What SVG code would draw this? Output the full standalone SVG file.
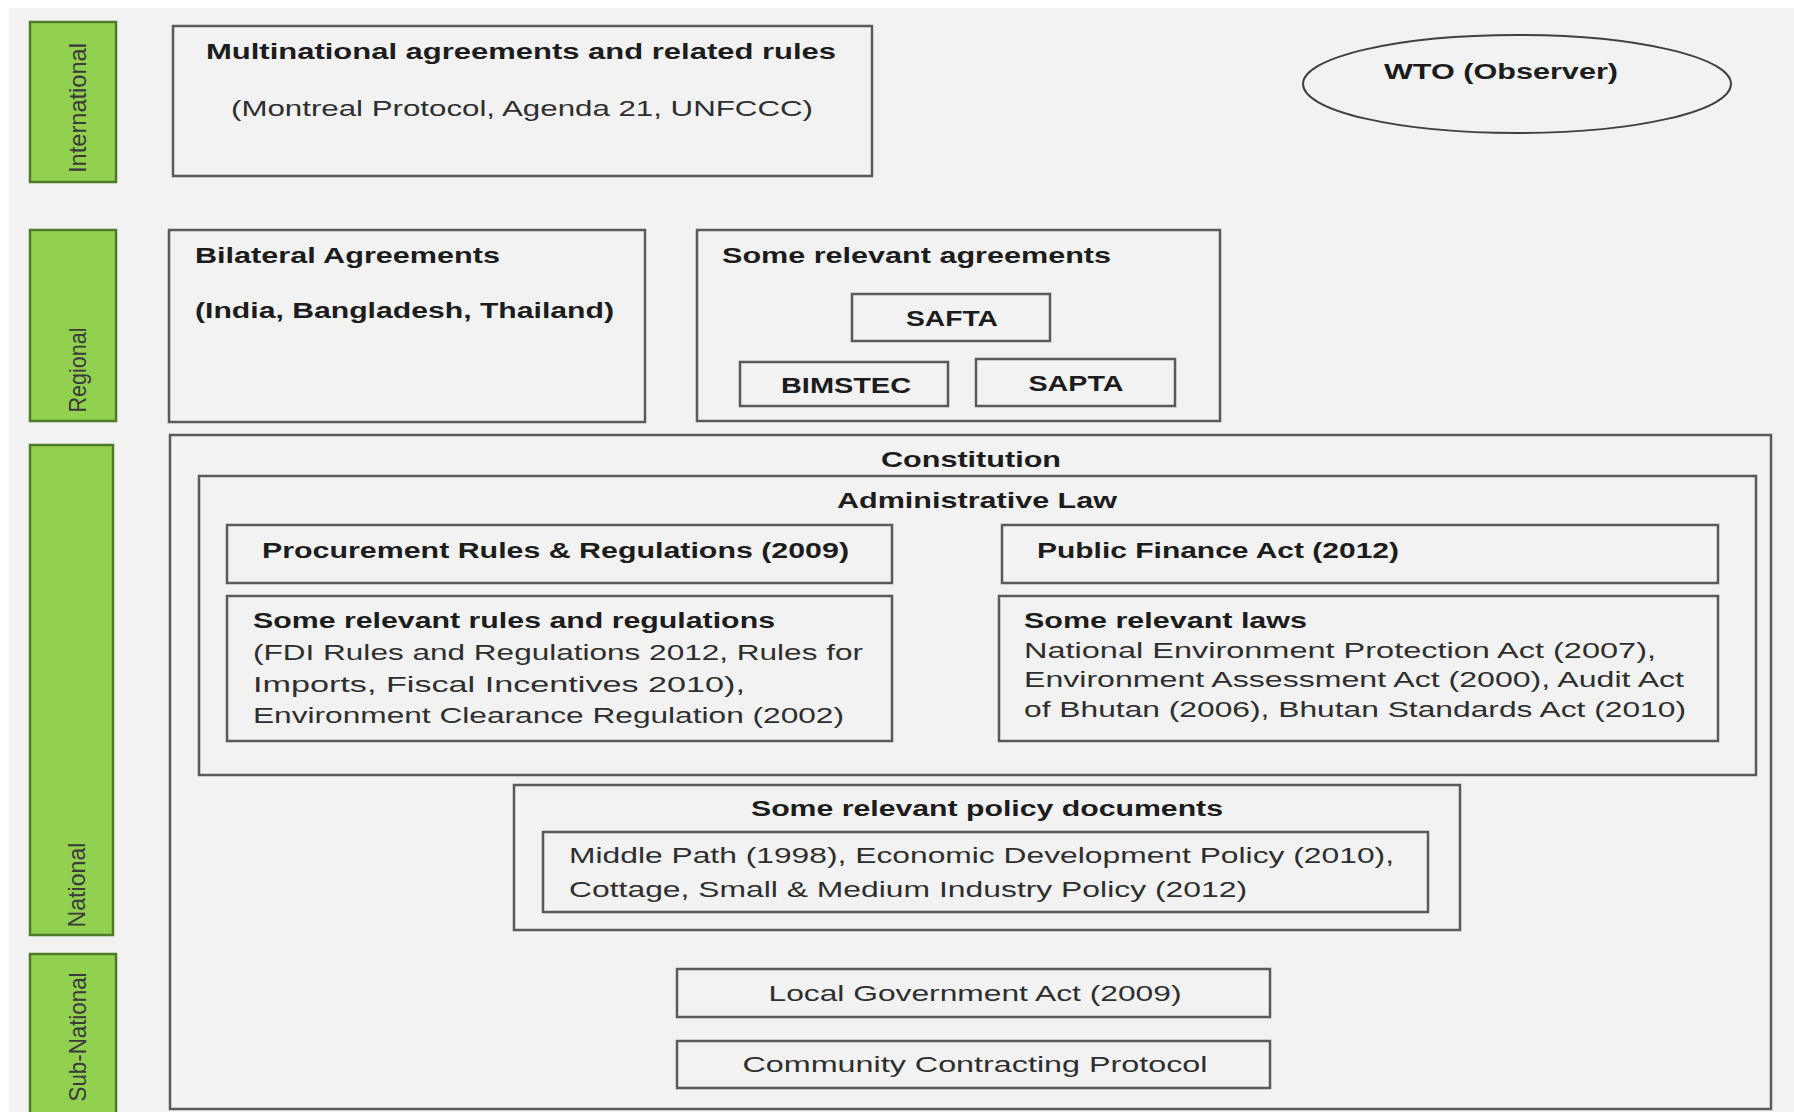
<svg xmlns="http://www.w3.org/2000/svg" width="1794" height="1112" viewBox="0 0 1794 1112">
<style>
.bg{fill:#f2f2f2}
.lab{fill:#92d050;stroke:#4f7a28;stroke-width:2.5}
.box{fill:none;stroke:#5a5a5a;stroke-width:2.5}
.b{font-family:"Liberation Sans",Arial,sans-serif;font-weight:bold;font-size:22px;fill:#1c1c1c}
.r{font-family:"Liberation Sans",Arial,sans-serif;font-size:22px;fill:#2e2e2e}
.v{font-family:"Liberation Sans",Arial,sans-serif;font-size:24px;fill:#3a3a3a}
.c{text-anchor:middle}
</style>
<rect x="0" y="0" width="1794" height="1112" fill="#ffffff"/>
<rect class="bg" x="9" y="8" width="1785" height="1104"/>

<g id="label-international">
<rect class="lab" x="30" y="22" width="86" height="160"/>
<text class="v c" transform="translate(86,108) rotate(-90)" textLength="130" lengthAdjust="spacingAndGlyphs">International</text>
</g>
<g id="label-regional">
<rect class="lab" x="30" y="230" width="86" height="191"/>
<text class="v c" transform="translate(86,370) rotate(-90)" textLength="85" lengthAdjust="spacingAndGlyphs">Regional</text>
</g>
<g id="label-national">
<rect class="lab" x="30" y="445" width="83" height="490"/>
<text class="v c" transform="translate(85,885) rotate(-90)" textLength="85" lengthAdjust="spacingAndGlyphs">National</text>
</g>
<g id="label-subnational">
<rect class="lab" x="30" y="954" width="86" height="165"/>
<text class="v c" transform="translate(86,1037) rotate(-90)" textLength="129" lengthAdjust="spacingAndGlyphs">Sub-National</text>
</g>

<g id="multinational">
<rect class="box" x="173" y="26" width="699" height="150"/>
<text class="b c" x="521" y="59" textLength="630" lengthAdjust="spacingAndGlyphs">Multinational agreements and related rules</text>
<text class="r c" x="522" y="116" textLength="582" lengthAdjust="spacingAndGlyphs">(Montreal Protocol, Agenda 21, UNFCCC)</text>
</g>

<g id="wto">
<ellipse cx="1517" cy="84" rx="214" ry="49" fill="none" stroke="#404040" stroke-width="2"/>
<text class="b c" x="1501" y="79" textLength="234" lengthAdjust="spacingAndGlyphs">WTO (Observer)</text>
</g>

<g id="bilateral">
<rect class="box" x="169" y="230" width="476" height="192"/>
<text class="b" x="195" y="263" textLength="305" lengthAdjust="spacingAndGlyphs">Bilateral Agreements</text>
<text class="b" x="195" y="318" textLength="419" lengthAdjust="spacingAndGlyphs">(India, Bangladesh, Thailand)</text>
</g>

<g id="regional-agreements">
<rect class="box" x="697" y="230" width="523" height="191"/>
<text class="b" x="722" y="263" textLength="389" lengthAdjust="spacingAndGlyphs">Some relevant agreements</text>
</g>
<g id="safta">
<rect class="box" x="852" y="294" width="198" height="47"/>
<text class="b c" x="952" y="326" textLength="92" lengthAdjust="spacingAndGlyphs">SAFTA</text>
</g>
<g id="bimstec">
<rect class="box" x="740" y="362" width="208" height="44"/>
<text class="b c" x="846" y="393" textLength="130" lengthAdjust="spacingAndGlyphs">BIMSTEC</text>
</g>
<g id="sapta">
<rect class="box" x="976" y="359" width="199" height="47"/>
<text class="b c" x="1076" y="391" textLength="95" lengthAdjust="spacingAndGlyphs">SAPTA</text>
</g>

<g id="constitution">
<rect class="box" x="170" y="435" width="1601" height="674"/>
<text class="b c" x="971" y="467" textLength="180" lengthAdjust="spacingAndGlyphs">Constitution</text>
</g>

<g id="administrative-law">
<rect class="box" x="199" y="476" width="1557" height="299"/>
<text class="b c" x="977" y="508" textLength="280" lengthAdjust="spacingAndGlyphs">Administrative Law</text>
</g>

<g id="procurement">
<rect class="box" x="227" y="525" width="665" height="58"/>
<text class="b" x="262" y="558" textLength="587" lengthAdjust="spacingAndGlyphs">Procurement Rules &amp; Regulations (2009)</text>
</g>

<g id="public-finance">
<rect class="box" x="1002" y="525" width="716" height="58"/>
<text class="b" x="1037" y="558" textLength="362" lengthAdjust="spacingAndGlyphs">Public Finance Act (2012)</text>
</g>

<g id="rules-regulations">
<rect class="box" x="227" y="596" width="665" height="145"/>
<text class="b" x="253" y="628" textLength="522" lengthAdjust="spacingAndGlyphs">Some relevant rules and regulations</text>
<text class="r" x="253" y="660" textLength="610" lengthAdjust="spacingAndGlyphs">(FDI Rules and Regulations 2012, Rules for</text>
<text class="r" x="253" y="692" textLength="492" lengthAdjust="spacingAndGlyphs">Imports, Fiscal Incentives 2010),</text>
<text class="r" x="253" y="723" textLength="591" lengthAdjust="spacingAndGlyphs">Environment Clearance Regulation (2002)</text>
</g>

<g id="relevant-laws">
<rect class="box" x="999" y="596" width="719" height="145"/>
<text class="b" x="1024" y="628" textLength="283" lengthAdjust="spacingAndGlyphs">Some relevant laws</text>
<text class="r" x="1024" y="658" textLength="632" lengthAdjust="spacingAndGlyphs">National Environment Protection Act (2007),</text>
<text class="r" x="1024" y="687" textLength="660" lengthAdjust="spacingAndGlyphs">Environment Assessment Act (2000), Audit Act</text>
<text class="r" x="1024" y="717" textLength="662" lengthAdjust="spacingAndGlyphs">of Bhutan (2006), Bhutan Standards Act (2010)</text>
</g>

<g id="policy-documents">
<rect class="box" x="514" y="785" width="946" height="145"/>
<text class="b c" x="987" y="816" textLength="472" lengthAdjust="spacingAndGlyphs">Some relevant policy documents</text>
</g>
<g id="policy-list">
<rect class="box" x="543" y="832" width="885" height="80"/>
<text class="r" x="569" y="863" textLength="825" lengthAdjust="spacingAndGlyphs">Middle Path (1998), Economic Development Policy (2010),</text>
<text class="r" x="569" y="897" textLength="678" lengthAdjust="spacingAndGlyphs">Cottage, Small &amp; Medium Industry Policy (2012)</text>
</g>

<g id="local-government">
<rect class="box" x="677" y="969" width="593" height="48"/>
<text class="r c" x="975" y="1001" textLength="413" lengthAdjust="spacingAndGlyphs">Local Government Act (2009)</text>
</g>
<g id="community-contracting">
<rect class="box" x="677" y="1041" width="593" height="47"/>
<text class="r c" x="975" y="1072" textLength="465" lengthAdjust="spacingAndGlyphs">Community Contracting Protocol</text>
</g>

<g id="connectors"></g>
</svg>
